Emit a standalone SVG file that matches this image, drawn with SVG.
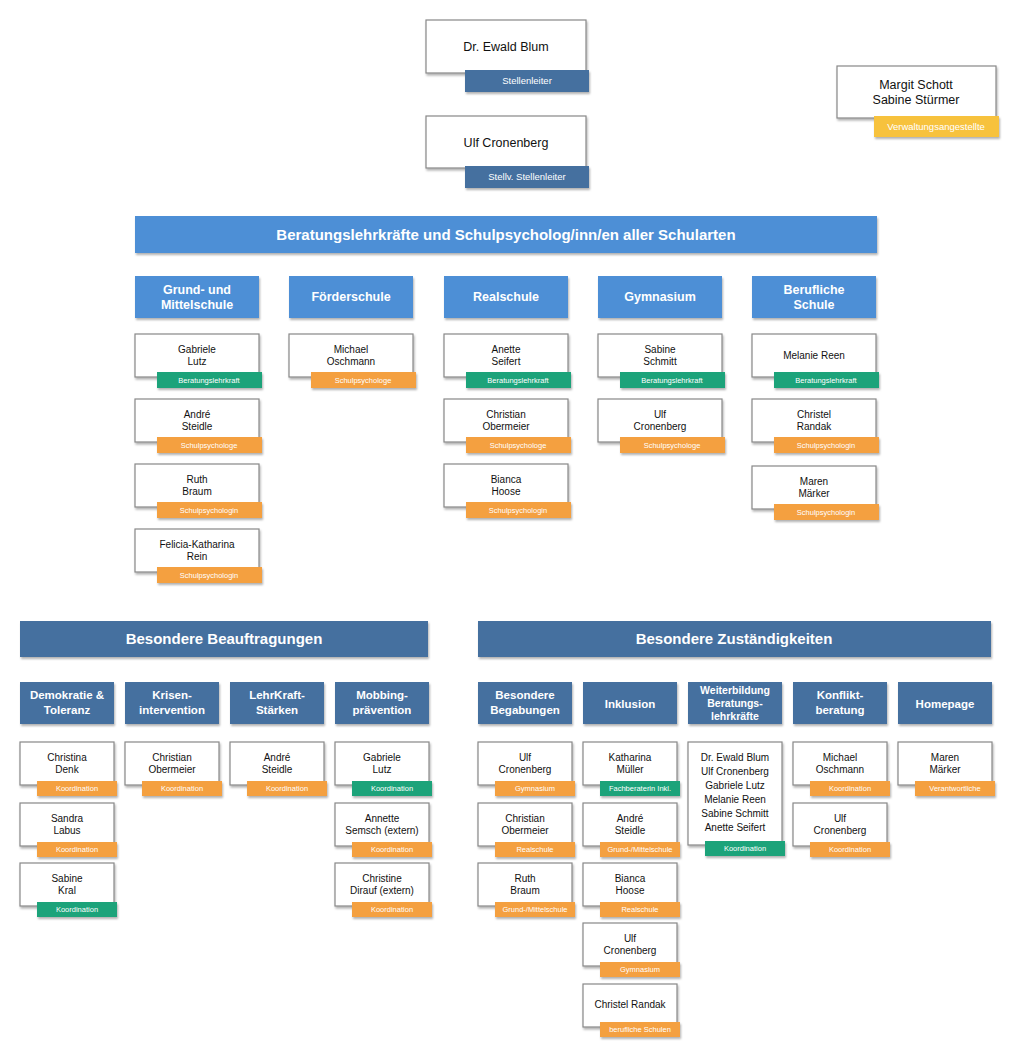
<svg xmlns="http://www.w3.org/2000/svg" width="1024" height="1063" viewBox="0 0 1024 1063">
<defs>
<filter id="sh" x="-10%" y="-10%" width="130%" height="140%"><feDropShadow dx="1" dy="2" stdDeviation="1.2" flood-color="#000" flood-opacity="0.3"/></filter>
<style>
text{font-family:"Liberation Sans",Arial,sans-serif;text-anchor:middle}
.card{fill:#fff;stroke:#888;stroke-width:1.2;filter:url(#sh)}
.n{font-size:10px;fill:#111}
.nb{font-size:12.5px;fill:#111}
.t{font-size:7.5px;fill:#fff}
.tb{font-size:9.5px;fill:#fff}
.g{fill:#1aa37a;filter:url(#sh)}
.o{fill:#f4a040;filter:url(#sh)}
.y{fill:#f7c23c;filter:url(#sh)}
.d{fill:#44709f;filter:url(#sh)}
.lb{fill:#4d8fd6;filter:url(#sh)}
.h{font-size:12.5px;fill:#fff;font-weight:bold}
.hs{font-size:11.5px;fill:#fff;font-weight:bold}
.ban{font-size:15px;fill:#fff;font-weight:bold}
</style>
</defs>
<g id="connectors"/>
<g id="blum"><rect class="card" x="426" y="20" width="160" height="53"/><text class="nb" x="506" y="51">Dr. Ewald Blum</text><rect class="d" x="465" y="70" width="124" height="22"/><text class="tb" x="527" y="84">Stellenleiter</text></g>
<g id="cronenberg"><rect class="card" x="426" y="116" width="160" height="52"/><text class="nb" x="506" y="147">Ulf Cronenberg</text><rect class="d" x="465" y="166" width="124" height="22"/><text class="tb" x="527" y="180">Stellv. Stellenleiter</text></g>
<g id="verwaltung"><rect class="card" x="837" y="66" width="159" height="52"/><text class="nb" x="916" y="89">Margit Schott</text><text class="nb" x="916" y="104">Sabine Stürmer</text><rect class="y" x="874" y="116" width="125" height="21"/><text class="tb" x="936" y="130">Verwaltungsangestellte</text></g>

<g id="banner1"><rect class="lb" x="135" y="216" width="742" height="37"/><text class="ban" x="506" y="240">Beratungslehrkräfte und Schulpsycholog/inn/en aller Schularten</text></g>

<g id="h-gms"><rect class="lb" x="135" y="276" width="124" height="42"/><text class="h" x="197" y="294">Grund- und</text><text class="h" x="197" y="309">Mittelschule</text></g>
<g id="h-fs"><rect class="lb" x="289" y="276" width="124" height="42"/><text class="h" x="351" y="301">Förderschule</text></g>
<g id="h-rs"><rect class="lb" x="444" y="276" width="124" height="42"/><text class="h" x="506" y="301">Realschule</text></g>
<g id="h-gym"><rect class="lb" x="598" y="276" width="124" height="42"/><text class="h" x="660" y="301">Gymnasium</text></g>
<g id="h-bs"><rect class="lb" x="752" y="276" width="124" height="42"/><text class="h" x="814" y="294">Berufliche</text><text class="h" x="814" y="309">Schule</text></g>

<g id="p1"><rect class="card" x="135" y="334" width="124" height="43"/><text class="n" x="197" y="353">Gabriele</text><text class="n" x="197" y="365">Lutz</text><rect class="g" x="157" y="372" width="105" height="16"/><text class="t" x="209" y="383">Beratungslehrkraft</text></g>
<g id="p2"><rect class="card" x="135" y="399" width="124" height="43"/><text class="n" x="197" y="418">André</text><text class="n" x="197" y="430">Steidle</text><rect class="o" x="157" y="437" width="105" height="16"/><text class="t" x="209" y="448">Schulpsychologe</text></g>
<g id="p3"><rect class="card" x="135" y="464" width="124" height="43"/><text class="n" x="197" y="483">Ruth</text><text class="n" x="197" y="495">Braum</text><rect class="o" x="157" y="502" width="105" height="16"/><text class="t" x="209" y="513">Schulpsychologin</text></g>
<g id="p4"><rect class="card" x="135" y="529" width="124" height="43"/><text class="n" x="197" y="548">Felicia-Katharina</text><text class="n" x="197" y="560">Rein</text><rect class="o" x="157" y="567" width="105" height="16"/><text class="t" x="209" y="578">Schulpsychologin</text></g>
<g id="p5"><rect class="card" x="289" y="334" width="124" height="43"/><text class="n" x="351" y="353">Michael</text><text class="n" x="351" y="365">Oschmann</text><rect class="o" x="311" y="372" width="105" height="16"/><text class="t" x="363" y="383">Schulpsychologe</text></g>
<g id="p6"><rect class="card" x="444" y="334" width="124" height="43"/><text class="n" x="506" y="353">Anette</text><text class="n" x="506" y="365">Seifert</text><rect class="g" x="466" y="372" width="105" height="16"/><text class="t" x="518" y="383">Beratungslehrkraft</text></g>
<g id="p7"><rect class="card" x="444" y="399" width="124" height="43"/><text class="n" x="506" y="418">Christian</text><text class="n" x="506" y="430">Obermeier</text><rect class="o" x="466" y="437" width="105" height="16"/><text class="t" x="518" y="448">Schulpsychologe</text></g>
<g id="p8"><rect class="card" x="444" y="464" width="124" height="43"/><text class="n" x="506" y="483">Bianca</text><text class="n" x="506" y="495">Hoose</text><rect class="o" x="466" y="502" width="105" height="16"/><text class="t" x="518" y="513">Schulpsychologin</text></g>
<g id="p9"><rect class="card" x="598" y="334" width="124" height="43"/><text class="n" x="660" y="353">Sabine</text><text class="n" x="660" y="365">Schmitt</text><rect class="g" x="620" y="372" width="105" height="16"/><text class="t" x="672" y="383">Beratungslehrkraft</text></g>
<g id="p10"><rect class="card" x="598" y="399" width="124" height="43"/><text class="n" x="660" y="418">Ulf</text><text class="n" x="660" y="430">Cronenberg</text><rect class="o" x="620" y="437" width="105" height="16"/><text class="t" x="672" y="448">Schulpsychologe</text></g>
<g id="p11"><rect class="card" x="752" y="334" width="124" height="43"/><text class="n" x="814" y="359">Melanie Reen</text><rect class="g" x="774" y="372" width="105" height="16"/><text class="t" x="826" y="383">Beratungslehrkraft</text></g>
<g id="p12"><rect class="card" x="752" y="399" width="124" height="43"/><text class="n" x="814" y="418">Christel</text><text class="n" x="814" y="430">Randak</text><rect class="o" x="774" y="437" width="105" height="16"/><text class="t" x="826" y="448">Schulpsychologin</text></g>
<g id="p13"><rect class="card" x="752" y="466" width="124" height="43"/><text class="n" x="814" y="485">Maren</text><text class="n" x="814" y="497">Märker</text><rect class="o" x="774" y="504" width="105" height="16"/><text class="t" x="826" y="515">Schulpsychologin</text></g>

<g id="banner2"><rect class="d" x="20" y="621" width="408" height="36"/><text class="ban" x="224" y="644">Besondere Beauftragungen</text></g>
<g id="banner3"><rect class="d" x="478" y="621" width="513" height="36"/><text class="ban" x="734" y="644">Besondere Zuständigkeiten</text></g>

<g id="h-dem"><rect class="d" x="20" y="682" width="94" height="42"/><text class="hs" x="67" y="699">Demokratie &amp;</text><text class="hs" x="67" y="714">Toleranz</text></g>
<g id="h-kri"><rect class="d" x="125" y="682" width="94" height="42"/><text class="hs" x="172" y="699">Krisen-</text><text class="hs" x="172" y="714">intervention</text></g>
<g id="h-lks"><rect class="d" x="230" y="682" width="94" height="42"/><text class="hs" x="277" y="699">LehrKraft-</text><text class="hs" x="277" y="714">Stärken</text></g>
<g id="h-mob"><rect class="d" x="335" y="682" width="94" height="42"/><text class="hs" x="382" y="699">Mobbing-</text><text class="hs" x="382" y="714">prävention</text></g>
<g id="h-beg"><rect class="d" x="478" y="682" width="94" height="42"/><text class="hs" x="525" y="699">Besondere</text><text class="hs" x="525" y="714">Begabungen</text></g>
<g id="h-inkl"><rect class="d" x="583" y="682" width="94" height="42"/><text class="hs" x="630" y="708">Inklusion</text></g>
<g id="h-wb"><rect class="d" x="688" y="682" width="94" height="42"/><text class="t" style="font-size:10.5px;font-weight:bold" x="735" y="694">Weiterbildung</text><text class="t" style="font-size:10.5px;font-weight:bold" x="735" y="707">Beratungs-</text><text class="t" style="font-size:10.5px;font-weight:bold" x="735" y="720">lehrkräfte</text></g>
<g id="h-konf"><rect class="d" x="793" y="682" width="94" height="42"/><text class="hs" x="840" y="699">Konflikt-</text><text class="hs" x="840" y="714">beratung</text></g>
<g id="h-home"><rect class="d" x="898" y="682" width="94" height="42"/><text class="hs" x="945" y="708">Homepage</text></g>

<g id="b1"><rect class="card" x="20" y="742" width="94" height="43"/><text class="n" x="67" y="761">Christina</text><text class="n" x="67" y="773">Denk</text><rect class="o" x="37" y="781" width="80" height="15"/><text class="t" x="77" y="791">Koordination</text></g>
<g id="b2"><rect class="card" x="20" y="803" width="94" height="43"/><text class="n" x="67" y="822">Sandra</text><text class="n" x="67" y="834">Labus</text><rect class="o" x="37" y="842" width="80" height="15"/><text class="t" x="77" y="852">Koordination</text></g>
<g id="b3"><rect class="card" x="20" y="863" width="94" height="43"/><text class="n" x="67" y="882">Sabine</text><text class="n" x="67" y="894">Kral</text><rect class="g" x="37" y="902" width="80" height="15"/><text class="t" x="77" y="912">Koordination</text></g>
<g id="b4"><rect class="card" x="125" y="742" width="94" height="43"/><text class="n" x="172" y="761">Christian</text><text class="n" x="172" y="773">Obermeier</text><rect class="o" x="142" y="781" width="80" height="15"/><text class="t" x="182" y="791">Koordination</text></g>
<g id="b5"><rect class="card" x="230" y="742" width="94" height="43"/><text class="n" x="277" y="761">André</text><text class="n" x="277" y="773">Steidle</text><rect class="o" x="247" y="781" width="80" height="15"/><text class="t" x="287" y="791">Koordination</text></g>
<g id="b6"><rect class="card" x="335" y="742" width="94" height="43"/><text class="n" x="382" y="761">Gabriele</text><text class="n" x="382" y="773">Lutz</text><rect class="g" x="352" y="781" width="80" height="15"/><text class="t" x="392" y="791">Koordination</text></g>
<g id="b7"><rect class="card" x="335" y="803" width="94" height="43"/><text class="n" x="382" y="822">Annette</text><text class="n" x="382" y="834">Semsch (extern)</text><rect class="o" x="352" y="842" width="80" height="15"/><text class="t" x="392" y="852">Koordination</text></g>
<g id="b8"><rect class="card" x="335" y="863" width="94" height="43"/><text class="n" x="382" y="882">Christine</text><text class="n" x="382" y="894">Dirauf (extern)</text><rect class="o" x="352" y="902" width="80" height="15"/><text class="t" x="392" y="912">Koordination</text></g>

<g id="z1"><rect class="card" x="478" y="742" width="94" height="43"/><text class="n" x="525" y="761">Ulf</text><text class="n" x="525" y="773">Cronenberg</text><rect class="o" x="495" y="781" width="80" height="15"/><text class="t" x="535" y="791">Gymnasium</text></g>
<g id="z2"><rect class="card" x="478" y="803" width="94" height="43"/><text class="n" x="525" y="822">Christian</text><text class="n" x="525" y="834">Obermeier</text><rect class="o" x="495" y="842" width="80" height="15"/><text class="t" x="535" y="852">Realschule</text></g>
<g id="z3"><rect class="card" x="478" y="863" width="94" height="43"/><text class="n" x="525" y="882">Ruth</text><text class="n" x="525" y="894">Braum</text><rect class="o" x="495" y="902" width="80" height="15"/><text class="t" x="535" y="912">Grund-/Mittelschule</text></g>
<g id="z4"><rect class="card" x="583" y="742" width="94" height="43"/><text class="n" x="630" y="761">Katharina</text><text class="n" x="630" y="773">Müller</text><rect class="g" x="600" y="781" width="80" height="15"/><text class="t" x="640" y="791">Fachberaterin Inkl.</text></g>
<g id="z5"><rect class="card" x="583" y="803" width="94" height="43"/><text class="n" x="630" y="822">André</text><text class="n" x="630" y="834">Steidle</text><rect class="o" x="600" y="842" width="80" height="15"/><text class="t" x="640" y="852">Grund-/Mittelschule</text></g>
<g id="z6"><rect class="card" x="583" y="863" width="94" height="43"/><text class="n" x="630" y="882">Bianca</text><text class="n" x="630" y="894">Hoose</text><rect class="o" x="600" y="902" width="80" height="15"/><text class="t" x="640" y="912">Realschule</text></g>
<g id="z7"><rect class="card" x="583" y="923" width="94" height="43"/><text class="n" x="630" y="942">Ulf</text><text class="n" x="630" y="954">Cronenberg</text><rect class="o" x="600" y="962" width="80" height="15"/><text class="t" x="640" y="972">Gymnasium</text></g>
<g id="z8"><rect class="card" x="583" y="984" width="94" height="43"/><text class="n" x="630" y="1008">Christel Randak</text><rect class="o" x="600" y="1022" width="80" height="15"/><text class="t" x="640" y="1032">berufliche Schulen</text></g>
<g id="z9"><rect class="card" x="688" y="742" width="94" height="103"/><text class="n" x="735" y="761">Dr. Ewald Blum</text><text class="n" x="735" y="775">Ulf Cronenberg</text><text class="n" x="735" y="789">Gabriele Lutz</text><text class="n" x="735" y="803">Melanie Reen</text><text class="n" x="735" y="817">Sabine Schmitt</text><text class="n" x="735" y="831">Anette Seifert</text><rect class="g" x="705" y="841" width="80" height="15"/><text class="t" x="745" y="851">Koordination</text></g>
<g id="z10"><rect class="card" x="793" y="742" width="94" height="43"/><text class="n" x="840" y="761">Michael</text><text class="n" x="840" y="773">Oschmann</text><rect class="o" x="810" y="781" width="80" height="15"/><text class="t" x="850" y="791">Koordination</text></g>
<g id="z11"><rect class="card" x="793" y="803" width="94" height="43"/><text class="n" x="840" y="822">Ulf</text><text class="n" x="840" y="834">Cronenberg</text><rect class="o" x="810" y="842" width="80" height="15"/><text class="t" x="850" y="852">Koordination</text></g>
<g id="z12"><rect class="card" x="898" y="742" width="94" height="43"/><text class="n" x="945" y="761">Maren</text><text class="n" x="945" y="773">Märker</text><rect class="o" x="915" y="781" width="80" height="15"/><text class="t" x="955" y="791">Verantwortliche</text></g>
</svg>
